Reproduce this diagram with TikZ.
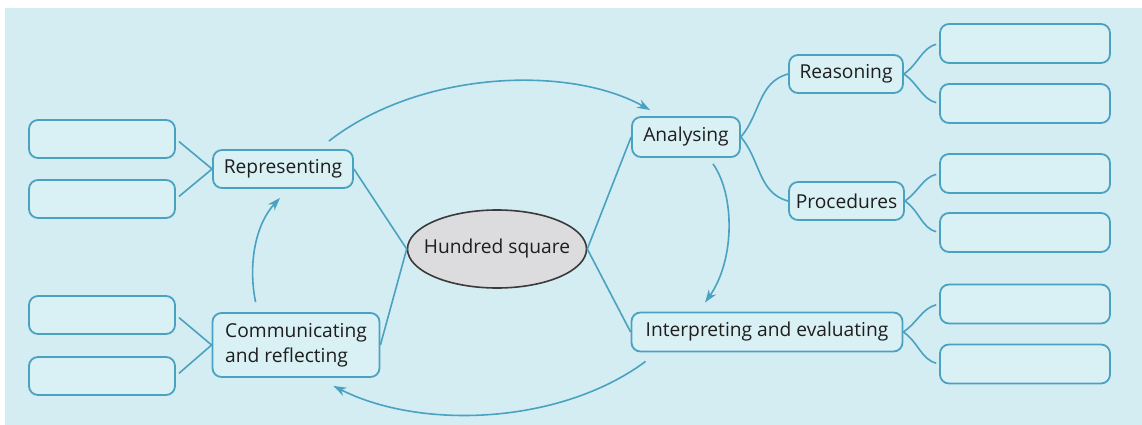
\documentclass[tikz,border=0pt]{standalone}
\usepackage{fontspec}
\setmainfont{Open Sans}
\usetikzlibrary{arrows.meta,shapes.geometric}
\definecolor{bgc}{HTML}{D4EDF3}
\definecolor{boxfill}{HTML}{D9F0F5}
\definecolor{linec}{HTML}{4AA2C0}
\definecolor{ellfill}{HTML}{DCDBDE}
\definecolor{ellline}{HTML}{3A3A3A}
\definecolor{txt}{HTML}{1E1E1E}
\tikzset{
  rbox/.style={draw=linec, line width=1.8pt, rounded corners=9pt, fill=boxfill,
    inner sep=0pt, font=\fontsize{19.2}{25}\selectfont, text=txt},
  emptybox/.style={rbox, minimum width=146pt, minimum height=38pt},
  emptyboxr/.style={rbox, minimum width=170pt, minimum height=39pt},
  conn/.style={draw=linec, line width=1.6pt},
  cyc/.style={draw=linec, line width=1.6pt, -{Stealth[length=13pt,width=9pt]}},
  centre/.style={ellipse, draw=ellline, line width=1.6pt, fill=ellfill,
    minimum width=179pt, minimum height=78pt, inner sep=0pt,
    label={[font=\fontsize{19.2}{25}\selectfont, text=txt, inner sep=0pt]center:#1}},
}
\begin{document}
\begin{tikzpicture}[x=1pt,y=1pt]
\useasboundingbox (0,0) rectangle (1142,-425);
\fill[bgc] (5,-8) rectangle (1142,-425);

% left empty boxes
\node[emptybox] (L1) at (102,-139) {};
\node[emptybox] (L2) at (102,-199) {};
\node[emptybox] (L3) at (102,-315) {};
\node[emptybox] (L4) at (102,-376) {};
% right empty boxes
\node[emptyboxr] (R1) at (1025,-43.5) {};
\node[emptyboxr] (R2) at (1025,-103.5) {};
\node[emptyboxr] (R3) at (1025,-173.5) {};
\node[emptyboxr] (R4) at (1025,-232.5) {};
\node[emptyboxr] (R5) at (1025,-304) {};
\node[emptyboxr] (R6) at (1025,-364) {};

% category boxes
\node[rbox, minimum width=140pt, minimum height=38pt] (rep) at (283,-169) {Representing};
\node[rbox, minimum width=167pt, minimum height=64pt, align=left] (com) at (296,-345) {Communicating\\and reflecting};
\node[rbox, minimum width=108pt, minimum height=40pt] (ana) at (686,-137) {Analysing};
\node[rbox, minimum width=271pt, minimum height=39pt] (int) at (767,-332) {Interpreting and evaluating};
\node[rbox, minimum width=114pt, minimum height=38pt] (rea) at (846,-74) {Reasoning};
\node[rbox, minimum width=115pt, minimum height=38pt] (pro) at (846.5,-201) {Procedures};

% centre
\node[centre={Hundred square}] (hs) at (497,-249) {};

% connectors
\draw[conn, shorten <=4pt] (L1.east) -- (rep.west);
\draw[conn, shorten <=4pt] (L2.east) -- (rep.west);
\draw[conn, shorten <=4pt] (L3.east) -- (com.west);
\draw[conn, shorten <=4pt] (L4.east) -- (com.west);
\draw[conn] (rep.east) -- (hs.west);
\draw[conn] (com.east) -- (hs.west);
\draw[conn] (hs.east) -- (ana.west);
\draw[conn] (hs.east) -- (int.west);
\draw[conn] (ana.east) to[out=50,in=195] (rea.west);
\draw[conn] (ana.east) to[out=-50,in=165] (pro.west);
\draw[conn, shorten >=3pt] (rea.east) to[out=35,in=195] (R1.west);
\draw[conn, shorten >=3pt] (rea.east) to[out=-35,in=165] (R2.west);
\draw[conn, shorten >=3pt] (pro.east) to[out=35,in=195] (R3.west);
\draw[conn, shorten >=3pt] (pro.east) to[out=-35,in=165] (R4.west);
\draw[conn, shorten >=3pt] (int.east) to[out=35,in=195] (R5.west);
\draw[conn, shorten >=3pt] (int.east) to[out=-35,in=165] (R6.west);

% cycle arrows
\draw[cyc] ([xshift=-25pt,yshift=8pt]rep.north east) .. controls (420,-70) and (570,-65) .. ([xshift=19pt,yshift=6pt]ana.north west);
\draw[cyc] ([xshift=27pt,yshift=-6pt]ana.south) .. controls (735,-195) and (735,-260) .. ([xshift=-62pt,yshift=9pt]int.north);
\draw[cyc] ([xshift=15pt,yshift=-9pt]int.south west) .. controls (560,-425) and (420,-430) .. ([xshift=-47pt,yshift=-8pt]com.south east);
\draw[cyc] ([xshift=44pt,yshift=10pt]com.north west) .. controls (248,-265) and (255,-225) .. ([xshift=-3pt,yshift=-9pt]rep.south);
\end{tikzpicture}
\end{document}
